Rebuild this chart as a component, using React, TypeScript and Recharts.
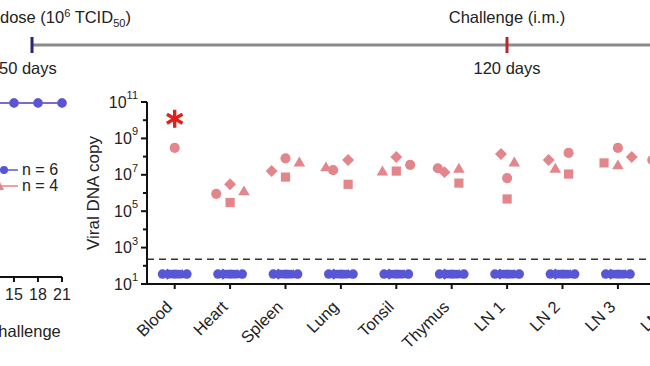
import {
  ScatterChart,
  Scatter,
  XAxis,
  YAxis,
  ZAxis,
  ReferenceLine,
  ReferenceDot,
  LineChart,
  Line,
} from "recharts";

const FONT = "'Liberation Sans', Arial, sans-serif";
const PINK = "#e3868c";
const BLUE = "#5757d6";

// organs on the x axis (the 10th one is cut off by the figure crop)
const organs = ["Blood", "Heart", "Spleen", "Lung", "Tonsil", "Thymus", "LN 1", "LN 2", "LN 3", "LN 4"];

// unvaccinated animals (n = 4), one array per symbol
const pinkCircle = [3e8, 9e5, 8e7, 1.8e7, 3.5e7, 2.3e7, 6.6e6, 1.6e8, 3e8, 6.5e7];
const pinkSquare = [null, 3e5, 7.5e6, 3e6, 1.6e7, 3.5e6, 4.7e5, 1.1e7, 4.5e7, null];
const pinkDiamond = [null, 3e6, 1.6e7, 6.5e7, 9.5e7, 1.4e7, 1.4e8, 6.5e7, 9.5e7, null];
const pinkTriangle = [null, 1.3e6, 5e7, 2.7e7, 1.6e7, 2.3e7, 5e7, 2.3e7, 3.5e7, null];

// horizontal spread of the symbols inside each organ column (category units)
const circleJitter = [0, -0.25, 0, -0.14, 0.25, -0.25, 0, 0.11, 0, -0.38];
const squareJitter = [0, 0, 0, 0.13, 0, 0.13, 0, 0.11, -0.25, 0];
const diamondJitter = [0, 0, -0.25, 0.13, 0, -0.13, -0.11, -0.25, 0.25, 0];
const triangleJitter = [0, 0.25, 0.25, -0.27, -0.25, 0.13, 0.13, -0.13, 0, 0];

// vaccinated animals (n = 6): all below detection
const blueCopies = [35, 35, 35, 35, 35, 35, 35, 35, 35, 35];
const blueShapes = ["circle", "diamond", "square", "square", "triangle", "circle"];
const blueJitter = [-0.22, -0.13, -0.04, 0.05, 0.14, 0.22];

const detectionLimit = 230;
const deathMark = 1.2e10;
const yTicks = [1e1, 1e2, 1e3, 1e4, 1e5, 1e6, 1e7, 1e8, 1e9, 1e10, 1e11];

// left panel, days post challenge
const days = [0, 3, 6, 9, 12, 15, 18, 21];
const survivalVaccinated = [100, 100, 100, 100, 100, 100, 100, 100];
const survivalControl = [100, 100, 100, 100, 100, 100, 100, 100];

const toPoints = (vals: (number | null)[], jit: number[]) =>
  vals.flatMap((v, i) => (v == null ? [] : [{ x: i + jit[i], y: v }]));

const survivalData = days.map((d, i) => ({
  day: d,
  vacc: survivalVaccinated[i],
  ctrl: survivalControl[i],
}));

// GraphPad-style marks
const mark = (kind: string, color: string, s: number) => (props: any) => {
  const { cx, cy } = props;
  if (kind === "square") return <rect x={cx - s} y={cy - s} width={2 * s} height={2 * s} fill={color} />;
  if (kind === "diamond") {
    const d = s * 1.3;
    return <polygon points={`${cx},${cy - d} ${cx + d},${cy} ${cx},${cy + d} ${cx - d},${cy}`} fill={color} />;
  }
  if (kind === "triangle") {
    const t = s * 1.2;
    return <polygon points={`${cx},${cy - t} ${cx + t * 1.05},${cy + t * 0.8} ${cx - t * 1.05},${cy + t * 0.8}`} fill={color} />;
  }
  return <circle cx={cx} cy={cy} r={s * 1.1} fill={color} />;
};

const YTick = (props: any) => {
  const { x, y, payload } = props;
  const exp = Math.round(Math.log10(payload.value));
  const major = exp % 2 === 1;
  return (
    <g>
      <line x1={x + (major ? 2 : 4)} x2={x + 8} y1={y} y2={y} stroke="#111" strokeWidth={2} />
      {major && (
        <text x={x - 1} y={y} textAnchor="end" dominantBaseline="central" fontSize={16} fill="#222" fontFamily={FONT}>
          10
          <tspan dy={-7} fontSize={11}>
            {exp}
          </tspan>
        </text>
      )}
    </g>
  );
};

const XTick = (props: any) => {
  const { x, y, payload } = props;
  return (
    <g transform={`translate(${x},${y})`}>
      <text x={-13} y={11} textAnchor="end" transform="rotate(-45)" fontSize={16.5} fill="#222" fontFamily={FONT}>
        {organs[payload.value]}
      </text>
    </g>
  );
};

const YLabel = (props: any) => {
  const { viewBox } = props;
  const cx = 93;
  const cy = viewBox.y + viewBox.height / 2;
  return (
    <text
      x={cx}
      y={cy}
      transform={`rotate(-90, ${cx}, ${cy})`}
      textAnchor="middle"
      dominantBaseline="central"
      fontSize={17}
      fill="#222"
      fontFamily={FONT}
    >
      Viral DNA copy
    </text>
  );
};

const Asterisk = (props: any) => {
  const { cx, cy } = props;
  const r = 9;
  const arms = [90, 30, 150];
  return (
    <g>
      {arms.map((a) => {
        const dx = r * Math.cos((a * Math.PI) / 180);
        const dy = r * Math.sin((a * Math.PI) / 180);
        return <line key={a} x1={cx - dx} y1={cy - dy} x2={cx + dx} y2={cy + dy} stroke="#e0201b" strokeWidth={3.4} />;
      })}
    </g>
  );
};

const Timeline = () => (
  <svg width={650} height={80} style={{ position: "absolute", left: 0, top: 0 }} fontFamily={FONT}>
    <line x1={32} x2={650} y1={45} y2={45} stroke="#8a8a8a" strokeWidth={3} />
    <line x1={32} x2={32} y1={37} y2={53} stroke="#25257a" strokeWidth={3} />
    <line x1={507} x2={507} y1={37} y2={53} stroke="#b8282a" strokeWidth={3} />
    <text x={0} y={23} fontSize={16.5} fill="#222">
      dose (10<tspan dy={-6} fontSize={11}>6</tspan>
      <tspan dy={6}> TCID</tspan>
      <tspan dy={4} fontSize={11}>50</tspan>
      <tspan dy={-4}>)</tspan>
    </text>
    <text x={-1} y={74} fontSize={16.5} fill="#222">50 days</text>
    <text x={507} y={23} fontSize={16.5} fill="#222" textAnchor="middle">Challenge (i.m.)</text>
    <text x={507} y={74} fontSize={16.5} fill="#222" textAnchor="middle">120 days</text>
  </svg>
);

const Legend = () => (
  <svg width={70} height={30} style={{ position: "absolute", left: 0, top: 162 }} fontFamily={FONT}>
    <line x1={0} x2={18} y1={8} y2={8} stroke={BLUE} strokeWidth={1.5} />
    <circle cx={4} cy={8} r={4} fill={BLUE} />
    <text x={22} y={13} fontSize={16} fill="#222">n = 6</text>
    <line x1={0} x2={18} y1={24} y2={24} stroke={PINK} strokeWidth={1.5} />
    <polygon points="-4,28 4,28 0,20" fill={PINK} />
    <text x={22} y={29} fontSize={16} fill="#222">n = 4</text>
  </svg>
);

export default function App() {
  return (
    <div
      style={{
        position: "absolute",
        left: 0,
        top: 0,
        width: 650,
        height: 366,
        overflow: "hidden",
        background: "#fff",
        fontFamily: FONT,
      }}
    >
      <Timeline />
      <Legend />

      <div style={{ position: "absolute", left: -116, top: 93 }}>
        <LineChart width={188} height={249} data={survivalData} margin={{ top: 10, right: 10, left: 10, bottom: 0 }}>
          <XAxis
            dataKey="day"
            type="number"
            domain={[0, 21]}
            ticks={days}
            interval={0}
            height={65}
            tickSize={5}
            tickMargin={7}
            stroke="#111"
            strokeWidth={2}
            tick={{ fontSize: 16, fill: "#222", fontFamily: FONT }}
            label={{ value: "Days post-challenge", position: "insideBottom", offset: 5, dx: 8, fontSize: 16.5, fill: "#222", fontFamily: FONT }}
          />
          <YAxis hide domain={[0, 100]} />
          <Line dataKey="ctrl" stroke={PINK} strokeWidth={1.5} dot={{ r: 4, fill: PINK, stroke: PINK }} isAnimationActive={false} />
          <Line dataKey="vacc" stroke={BLUE} strokeWidth={1.5} dot={{ r: 4, fill: BLUE, stroke: BLUE }} isAnimationActive={false} />
        </LineChart>
      </div>

      <div style={{ position: "absolute", left: 0, top: 0 }}>
        <ScatterChart width={720} height={366} margin={{ top: 102, right: 19, left: 87, bottom: 0 }}>
          <XAxis
            dataKey="x"
            type="number"
            domain={[-0.5, 9.5]}
            ticks={organs.map((_, i) => i)}
            interval={0}
            height={82}
            tickSize={5}
            stroke="#111"
            strokeWidth={2}
            tick={<XTick />}
          />
          <YAxis
            dataKey="y"
            type="number"
            scale="log"
            domain={[10, 1e11]}
            allowDataOverflow
            ticks={yTicks}
            interval={0}
            width={60}
            tickLine={false}
            tickSize={6}
            stroke="#111"
            strokeWidth={2}
            tick={<YTick />}
            label={<YLabel />}
          />
          <ZAxis range={[80, 80]} />
          <ReferenceLine y={detectionLimit} stroke="#333" strokeWidth={1.5} strokeDasharray="7 5" />
          {blueShapes.map((s, k) => (
            <Scatter
              key={k}
              data={blueCopies.map((v, i) => ({ x: i + blueJitter[k], y: v }))}
              shape={mark(s, BLUE, 4.3)}
              isAnimationActive={false}
            />
          ))}
          <Scatter data={toPoints(pinkCircle, circleJitter)} shape={mark("circle", PINK, 4.6)} isAnimationActive={false} />
          <Scatter data={toPoints(pinkSquare, squareJitter)} shape={mark("square", PINK, 4.6)} isAnimationActive={false} />
          <Scatter data={toPoints(pinkDiamond, diamondJitter)} shape={mark("diamond", PINK, 4.6)} isAnimationActive={false} />
          <Scatter data={toPoints(pinkTriangle, triangleJitter)} shape={mark("triangle", PINK, 4.6)} isAnimationActive={false} />
          <ReferenceDot x={0} y={deathMark} shape={<Asterisk />} />
        </ScatterChart>
      </div>
    </div>
  );
}
